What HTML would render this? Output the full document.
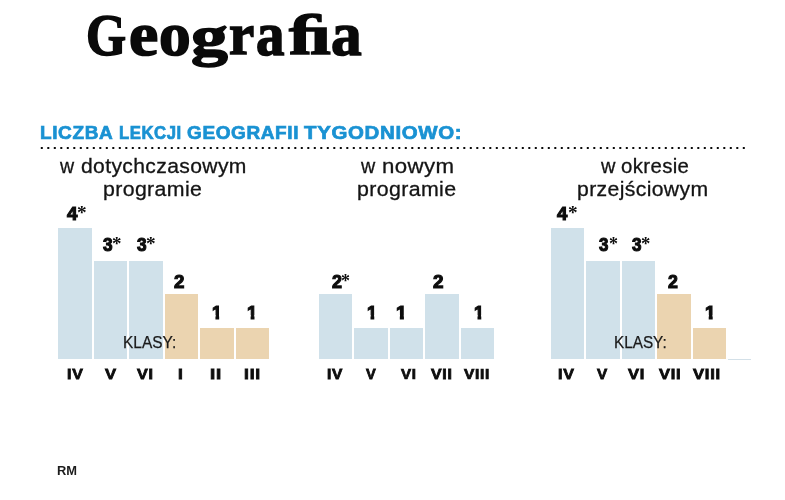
<!DOCTYPE html>
<html>
<head>
<meta charset="utf-8">
<title>Geografia</title>
<style>
html,body{margin:0;padding:0;background:#fff;}
body{width:785px;height:500px;position:relative;overflow:hidden;font-family:"Liberation Sans",sans-serif;color:#111;}
.t{position:absolute;white-space:nowrap;line-height:1;transform-origin:0 0;}
.w{position:absolute;left:0;top:0;width:785px;height:500px;filter:brightness(1);}
.bar{position:absolute;}
.g{margin:0;padding:0;font-size:0;line-height:0;font-weight:normal;}
</style>
</head>
<body>
<div class="bar" style="left:58.4px;top:228.0px;width:33.6px;height:131.0px;background:#d0e1ea"></div>
<div class="bar" style="left:93.9px;top:261.3px;width:33.6px;height:97.7px;background:#d0e1ea"></div>
<div class="bar" style="left:129.4px;top:261.3px;width:33.6px;height:97.7px;background:#d0e1ea"></div>
<div class="bar" style="left:164.9px;top:294.3px;width:33.6px;height:64.7px;background:#ebd4b0"></div>
<div class="bar" style="left:200.4px;top:327.6px;width:33.6px;height:31.4px;background:#ebd4b0"></div>
<div class="bar" style="left:235.9px;top:327.6px;width:33.6px;height:31.4px;background:#ebd4b0"></div>
<div class="bar" style="left:318.9px;top:294.3px;width:33.6px;height:64.7px;background:#d0e1ea"></div>
<div class="bar" style="left:354.4px;top:327.6px;width:33.6px;height:31.4px;background:#d0e1ea"></div>
<div class="bar" style="left:389.9px;top:327.6px;width:33.6px;height:31.4px;background:#d0e1ea"></div>
<div class="bar" style="left:425.4px;top:294.3px;width:33.6px;height:64.7px;background:#d0e1ea"></div>
<div class="bar" style="left:460.9px;top:327.6px;width:33.6px;height:31.4px;background:#d0e1ea"></div>
<div class="bar" style="left:550.6px;top:228.0px;width:33.6px;height:131.0px;background:#d0e1ea"></div>
<div class="bar" style="left:586.1px;top:261.3px;width:33.6px;height:97.7px;background:#d0e1ea"></div>
<div class="bar" style="left:621.6px;top:261.3px;width:33.6px;height:97.7px;background:#d0e1ea"></div>
<div class="bar" style="left:657.1px;top:294.3px;width:33.6px;height:64.7px;background:#ebd4b0"></div>
<div class="bar" style="left:692.6px;top:327.6px;width:33.6px;height:31.4px;background:#ebd4b0"></div>
<div class="bar" style="left:727.8px;top:359.2px;width:23px;height:1px;background:#d3e0e8"></div>
<svg style="position:absolute;left:0;top:140px" width="785" height="16"><line x1="40.8" y1="8" x2="745" y2="8" stroke="#0a0a0a" stroke-width="2" stroke-dasharray="2 4.5"/></svg>
<div class="w">
<h1 class="g"><span class="t" id="t1" style="left:85.62px;top:5.41px;font-family:'Liberation Serif',serif;font-weight:bold;font-size:60px;color:#0a0a0a;-webkit-text-stroke:1.6px #0a0a0a;transform:scale(0.8597,0.9914)">G</span><span class="t" id="t2" style="left:128.78px;top:3.81px;font-family:'Liberation Serif',serif;font-weight:bold;font-size:60px;color:#0a0a0a;-webkit-text-stroke:1.6px #0a0a0a;transform:scale(1.0988,1.0149)">e</span><span class="t" id="t3" style="left:159.41px;top:4.70px;font-family:'Liberation Serif',serif;font-weight:bold;font-size:60px;color:#0a0a0a;-webkit-text-stroke:1.6px #0a0a0a;transform:scale(1.0563,1.0061)">o</span><span class="t" id="t4" style="left:190.70px;top:7.66px;font-family:'Liberation Serif',serif;font-weight:bold;font-size:60px;color:#0a0a0a;-webkit-text-stroke:1.6px #0a0a0a;transform:scale(1.2274,0.9395)">g</span><span class="t" id="t5" style="left:229.23px;top:4.31px;font-family:'Liberation Serif',serif;font-weight:bold;font-size:60px;color:#0a0a0a;-webkit-text-stroke:1.6px #0a0a0a;transform:scale(0.9474,0.9975)">r</span><span class="t" id="t6" style="left:255.88px;top:2.74px;font-family:'Liberation Serif',serif;font-weight:bold;font-size:60px;color:#0a0a0a;-webkit-text-stroke:1.6px #0a0a0a;transform:scale(0.9480,1.0372)">a</span><span class="t" id="t7" style="left:288.94px;top:6.03px;font-family:'Liberation Serif',serif;font-weight:bold;font-size:60px;color:#0a0a0a;-webkit-text-stroke:1.6px #0a0a0a;transform:scale(1.2274,0.9584)">ﬁ</span><span class="t" id="t8" style="left:331.29px;top:2.74px;font-family:'Liberation Serif',serif;font-weight:bold;font-size:60px;color:#0a0a0a;-webkit-text-stroke:1.6px #0a0a0a;transform:scale(1.0212,1.0372)">a</span></h1>
<h2 class="g"><span class="t" id="h1" style="left:40.30px;top:123.50px;font-weight:bold;font-size:18.5px;letter-spacing:0.6px;color:#1a92d3;-webkit-text-stroke:0.7px #1a92d3;transform:scaleX(1.0271)">LICZBA</span> <span class="t" id="h2" style="left:119.11px;top:123.50px;font-weight:bold;font-size:18.5px;letter-spacing:0.6px;color:#1a92d3;-webkit-text-stroke:0.7px #1a92d3;transform:scaleX(0.9052)">LEKCJI</span> <span class="t" id="h3" style="left:187.17px;top:123.50px;font-weight:bold;font-size:18.5px;letter-spacing:0.6px;color:#1a92d3;-webkit-text-stroke:0.7px #1a92d3;transform:scaleX(1.0259)">GEOGRAFII</span> <span class="t" id="h4" style="left:304.07px;top:123.50px;font-weight:bold;font-size:18.5px;letter-spacing:0.6px;color:#1a92d3;-webkit-text-stroke:0.7px #1a92d3;transform:scaleX(1.1047)">TYGODNIOWO:</span></h2>
<div class="g"><span class="t" id="s1w" style="left:60.15px;top:155.80px;font-size:20.5px;letter-spacing:0.35px;color:#141414;-webkit-text-stroke:0.3px #141414;transform:scaleX(0.9543)">w</span> <span class="t" id="s1a" style="left:80.53px;top:155.80px;font-size:20.5px;letter-spacing:0.35px;color:#141414;-webkit-text-stroke:0.3px #141414;transform:scaleX(1.0295)">dotychczasowym</span> <span class="t" id="s1b" style="left:102.84px;top:179.40px;font-size:20.5px;letter-spacing:0.35px;color:#141414;-webkit-text-stroke:0.3px #141414;transform:scaleX(1.0397)">programie</span></div>
<div class="g"><span class="t" id="n1a" style="left:66.78px;top:204.94px;font-weight:bold;font-size:16.5px;color:#0d0d0d;-webkit-text-stroke:1px #0d0d0d;transform:scale(1.1345,1.1017)">4</span><span class="t" id="a1a" style="left:77.24px;top:202.64px;font-family:'Liberation Serif',serif;font-weight:bold;font-size:17px;color:#0d0d0d;transform:scale(1.1327,1.1112)">*</span></div>
<div class="g"><span class="t" id="n1b" style="left:102.61px;top:235.80px;font-weight:bold;font-size:16.5px;color:#0d0d0d;-webkit-text-stroke:1px #0d0d0d;transform:scale(1.0453,1.1067)">3</span><span class="t" id="a1b" style="left:111.86px;top:233.57px;font-family:'Liberation Serif',serif;font-weight:bold;font-size:17px;color:#0d0d0d;transform:scale(1.1174,1.1091)">*</span></div>
<div class="g"><span class="t" id="n1c" style="left:136.61px;top:235.80px;font-weight:bold;font-size:16.5px;color:#0d0d0d;-webkit-text-stroke:1px #0d0d0d;transform:scale(1.0453,1.1067)">3</span><span class="t" id="a1c" style="left:145.84px;top:233.57px;font-family:'Liberation Serif',serif;font-weight:bold;font-size:17px;color:#0d0d0d;transform:scale(1.1327,1.1091)">*</span></div>
<div class="g"><span class="t" id="n1d" style="left:174.04px;top:272.48px;font-weight:bold;font-size:16.5px;color:#0d0d0d;-webkit-text-stroke:1px #0d0d0d;transform:scale(1.1295,1.1196)">2</span></div>
<div class="g"><span class="t" id="n1e" style="left:212.04px;top:303.12px;font-weight:bold;font-size:16.5px;color:#0d0d0d;-webkit-text-stroke:1px #0d0d0d;clip-path:polygon(-2px -2px,12px -2px,12px 10.8px,6.75px 10.8px,6.75px 16px,3.25px 16px,3.25px 10.8px,-2px 10.8px);transform:scale(1.0607,1.1094)">1</span></div>
<div class="g"><span class="t" id="n1f" style="left:247.21px;top:303.12px;font-weight:bold;font-size:16.5px;color:#0d0d0d;-webkit-text-stroke:1px #0d0d0d;clip-path:polygon(-2px -2px,12px -2px,12px 10.8px,6.75px 10.8px,6.75px 16px,3.25px 16px,3.25px 10.8px,-2px 10.8px);transform:scale(1.1089,1.1094)">1</span></div>
<div class="g"><span class="t" id="k1" style="left:123.44px;top:335.00px;font-size:16px;color:#1a1a1a;-webkit-text-stroke:0.25px #1a1a1a;transform:scaleX(0.9653)">KLASY:</span></div>
<div class="g"><span class="t" id="l1a" style="left:66.86px;top:366.10px;font-weight:bold;font-size:15px;letter-spacing:0.7px;color:#0d0d0d;-webkit-text-stroke:0.8px #0d0d0d;transform:scale(1.0620,1.0076)">IV</span> <span class="t" id="l1b" style="left:105.11px;top:366.06px;font-weight:bold;font-size:15px;letter-spacing:0.7px;color:#0d0d0d;-webkit-text-stroke:0.8px #0d0d0d;transform:scale(1.1072,0.9866)">V</span> <span class="t" id="l1c" style="left:136.60px;top:366.34px;font-weight:bold;font-size:15px;letter-spacing:0.7px;color:#0d0d0d;-webkit-text-stroke:0.8px #0d0d0d;transform:scale(1.0754,0.9644)">VI</span> <span class="t" id="l1d" style="left:178.10px;top:366.49px;font-weight:bold;font-size:15px;letter-spacing:0.7px;color:#0d0d0d;-webkit-text-stroke:0.8px #0d0d0d;transform:scale(1.1556,0.9869)">I</span> <span class="t" id="l1e" style="left:210.25px;top:365.61px;font-weight:bold;font-size:15px;letter-spacing:0.7px;color:#0d0d0d;-webkit-text-stroke:0.8px #0d0d0d;transform:scale(1.2448,1.0263)">II</span> <span class="t" id="l1f" style="left:243.70px;top:366.39px;font-weight:bold;font-size:15px;letter-spacing:0.7px;color:#0d0d0d;-webkit-text-stroke:0.8px #0d0d0d;transform:scale(1.1643,0.9917)">III</span></div>
<div class="g"><span class="t" id="s2w" style="left:360.95px;top:155.80px;font-size:20.5px;letter-spacing:0.35px;color:#141414;-webkit-text-stroke:0.3px #141414;transform:scaleX(0.9611)">w</span> <span class="t" id="s2a" style="left:381.55px;top:155.80px;font-size:20.5px;letter-spacing:0.35px;color:#141414;-webkit-text-stroke:0.3px #141414;transform:scaleX(1.0857)">nowym</span> <span class="t" id="s2b" style="left:357.14px;top:179.40px;font-size:20.5px;letter-spacing:0.35px;color:#141414;-webkit-text-stroke:0.3px #141414;transform:scaleX(1.0419)">programie</span></div>
<div class="g"><span class="t" id="n2a" style="left:331.64px;top:272.48px;font-weight:bold;font-size:16.5px;color:#0d0d0d;-webkit-text-stroke:1px #0d0d0d;transform:scale(1.0847,1.1196)">2</span><span class="t" id="a2a" style="left:341.32px;top:271.66px;font-family:'Liberation Serif',serif;font-weight:bold;font-size:17px;color:#0d0d0d;transform:scale(1.0562,1.0991)">*</span></div>
<div class="g"><span class="t" id="n2b" style="left:366.73px;top:303.12px;font-weight:bold;font-size:16.5px;color:#0d0d0d;-webkit-text-stroke:1px #0d0d0d;clip-path:polygon(-2px -2px,12px -2px,12px 10.8px,6.75px 10.8px,6.75px 16px,3.25px 16px,3.25px 10.8px,-2px 10.8px);transform:scale(1.0768,1.1094)">1</span></div>
<div class="g"><span class="t" id="n2c" style="left:396.37px;top:303.12px;font-weight:bold;font-size:16.5px;color:#0d0d0d;-webkit-text-stroke:1px #0d0d0d;clip-path:polygon(-2px -2px,12px -2px,12px 10.8px,6.75px 10.8px,6.75px 16px,3.25px 16px,3.25px 10.8px,-2px 10.8px);transform:scale(1.1732,1.1094)">1</span></div>
<div class="g"><span class="t" id="n2d" style="left:433.34px;top:272.48px;font-weight:bold;font-size:16.5px;color:#0d0d0d;-webkit-text-stroke:1px #0d0d0d;transform:scale(1.1406,1.1196)">2</span></div>
<div class="g"><span class="t" id="n2e" style="left:473.93px;top:303.12px;font-weight:bold;font-size:16.5px;color:#0d0d0d;-webkit-text-stroke:1px #0d0d0d;clip-path:polygon(-2px -2px,12px -2px,12px 10.8px,6.75px 10.8px,6.75px 16px,3.25px 16px,3.25px 10.8px,-2px 10.8px);transform:scale(1.0768,1.1094)">1</span></div>
<div class="g"><span class="t" id="l2a" style="left:326.57px;top:366.70px;font-weight:bold;font-size:15px;letter-spacing:0.7px;color:#0d0d0d;-webkit-text-stroke:0.8px #0d0d0d;transform:scale(1.0340,0.9523)">IV</span> <span class="t" id="l2b" style="left:366.08px;top:366.26px;font-weight:bold;font-size:15px;letter-spacing:0.7px;color:#0d0d0d;-webkit-text-stroke:0.8px #0d0d0d;transform:scale(0.9724,1.0078)">V</span> <span class="t" id="l2c" style="left:401.09px;top:367.07px;font-weight:bold;font-size:15px;letter-spacing:0.7px;color:#0d0d0d;-webkit-text-stroke:0.8px #0d0d0d;transform:scale(1.0065,0.9195)">VI</span> <span class="t" id="l2d" style="left:430.50px;top:366.18px;font-weight:bold;font-size:15px;letter-spacing:0.7px;color:#0d0d0d;-webkit-text-stroke:0.8px #0d0d0d;transform:scale(1.0556,0.9657)">VII</span> <span class="t" id="l2e" style="left:463.60px;top:367.29px;font-weight:bold;font-size:15px;letter-spacing:0.7px;color:#0d0d0d;-webkit-text-stroke:0.8px #0d0d0d;transform:scale(1.0317,0.9138)">VIII</span></div>
<div class="g"><span class="t" id="s3w" style="left:600.95px;top:155.80px;font-size:20.5px;letter-spacing:0.35px;color:#141414;-webkit-text-stroke:0.3px #141414;transform:scaleX(0.9746)">w</span> <span class="t" id="s3a" style="left:621.34px;top:155.80px;font-size:20.5px;letter-spacing:0.35px;color:#141414;-webkit-text-stroke:0.3px #141414;transform:scaleX(0.9963)">okresie</span> <span class="t" id="s3b" style="left:576.75px;top:179.40px;font-size:20.5px;letter-spacing:0.35px;color:#141414;-webkit-text-stroke:0.3px #141414;transform:scaleX(1.0333)">przejściowym</span></div>
<div class="g"><span class="t" id="n3a" style="left:557.18px;top:204.94px;font-weight:bold;font-size:16.5px;color:#0d0d0d;-webkit-text-stroke:1px #0d0d0d;transform:scale(1.1243,1.1017)">4</span><span class="t" id="a3a" style="left:567.84px;top:202.53px;font-family:'Liberation Serif',serif;font-weight:bold;font-size:17px;color:#0d0d0d;transform:scale(1.1327,1.1680)">*</span></div>
<div class="g"><span class="t" id="n3b" style="left:599.32px;top:235.80px;font-weight:bold;font-size:16.5px;color:#0d0d0d;-webkit-text-stroke:1px #0d0d0d;transform:scale(1.0228,1.1067)">3</span><span class="t" id="a3b" style="left:608.82px;top:233.57px;font-family:'Liberation Serif',serif;font-weight:bold;font-size:17px;color:#0d0d0d;transform:scale(1.0562,1.1091)">*</span></div>
<div class="g"><span class="t" id="n3c" style="left:632.01px;top:235.80px;font-weight:bold;font-size:16.5px;color:#0d0d0d;-webkit-text-stroke:1px #0d0d0d;transform:scale(1.0340,1.1067)">3</span><span class="t" id="a3c" style="left:641.08px;top:233.57px;font-family:'Liberation Serif',serif;font-weight:bold;font-size:17px;color:#0d0d0d;transform:scale(1.1021,1.1091)">*</span></div>
<div class="g"><span class="t" id="n3d" style="left:667.64px;top:272.48px;font-weight:bold;font-size:16.5px;color:#0d0d0d;-webkit-text-stroke:1px #0d0d0d;transform:scale(1.0735,1.1196)">2</span></div>
<div class="g"><span class="t" id="n3e" style="left:704.99px;top:303.12px;font-weight:bold;font-size:16.5px;color:#0d0d0d;-webkit-text-stroke:1px #0d0d0d;clip-path:polygon(-2px -2px,12px -2px,12px 10.8px,6.75px 10.8px,6.75px 16px,3.25px 16px,3.25px 10.8px,-2px 10.8px);transform:scale(1.1411,1.1094)">1</span></div>
<div class="g"><span class="t" id="k3" style="left:614.05px;top:334.60px;font-size:16px;color:#1a1a1a;-webkit-text-stroke:0.25px #1a1a1a;transform:scaleX(0.9558)">KLASY:</span></div>
<div class="g"><span class="t" id="l3a" style="left:558.35px;top:365.95px;font-weight:bold;font-size:15px;letter-spacing:0.7px;color:#0d0d0d;-webkit-text-stroke:0.8px #0d0d0d;transform:scale(1.0690,0.9753)">IV</span> <span class="t" id="l3b" style="left:596.99px;top:366.49px;font-weight:bold;font-size:15px;letter-spacing:0.7px;color:#0d0d0d;-webkit-text-stroke:0.8px #0d0d0d;transform:scale(1.0205,0.9657)">V</span> <span class="t" id="l3c" style="left:627.91px;top:366.51px;font-weight:bold;font-size:15px;letter-spacing:0.7px;color:#0d0d0d;-webkit-text-stroke:0.8px #0d0d0d;transform:scale(1.1030,0.9391)">VI</span> <span class="t" id="l3d" style="left:659.21px;top:366.41px;font-weight:bold;font-size:15px;letter-spacing:0.7px;color:#0d0d0d;-webkit-text-stroke:0.8px #0d0d0d;transform:scale(1.0974,0.9675)">VII</span> <span class="t" id="l3e" style="left:692.71px;top:365.91px;font-weight:bold;font-size:15px;letter-spacing:0.7px;color:#0d0d0d;-webkit-text-stroke:0.8px #0d0d0d;transform:scale(1.1062,0.9788)">VIII</span></div>
<div class="g"><span class="t" id="rm" style="left:56.75px;top:464.80px;font-size:12px;font-weight:bold;color:#1c1c1c;transform:scaleX(1.0740)">RM</span></div>
</div>
</body>
</html>
